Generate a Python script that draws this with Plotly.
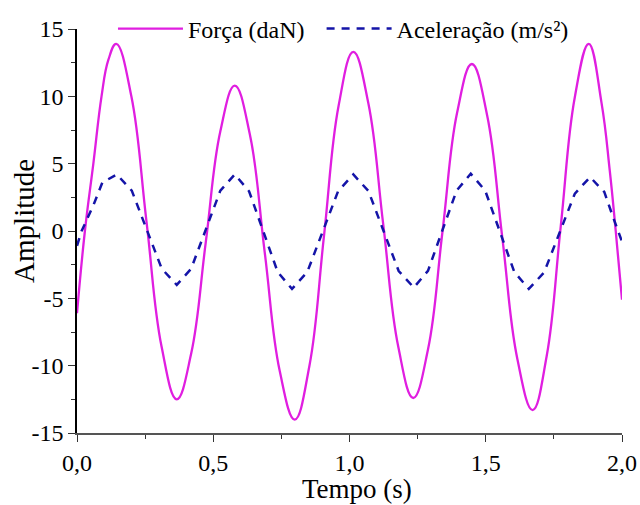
import plotly.graph_objects as go

# Força (daN)
t_force = [0.0, 0.029, 0.06, 0.09, 0.115, 0.144,
           0.1995, 0.255, 0.3105, 0.366,
           0.419, 0.4725, 0.526, 0.579,
           0.634, 0.689, 0.744, 0.799,
           0.853, 0.9065, 0.960, 1.014,
           1.069, 1.124, 1.179, 1.234,
           1.288, 1.3415, 1.395, 1.449,
           1.505, 1.5605, 1.616, 1.672,
           1.7235, 1.775, 1.8265, 1.878,
           1.925, 1.955, 1.977, 2.0]
force = [-6.1, 0.0, 5.0, 10.0, 12.7, 13.9,
         10.0, 0.7, -8.6, -12.5,
         -9.1, -0.85, 7.4, 10.8,
         7.2, -1.6, -10.4, -14.0,
         -10.0, -0.35, 9.3, 13.3,
         9.5, 0.45, -8.6, -12.4,
         -8.8, 0.0, 8.8, 12.4,
         8.6, -0.45, -9.5, -13.3,
         -9.3, 0.3, 9.9, 13.9,
         9.5, 4.5, 0.0, -5.1]

# Aceleração (m/s²)
t_acc = [0.0, 0.017, 0.06, 0.093, 0.146,
         0.201, 0.256, 0.311, 0.366,
         0.419, 0.4725, 0.526, 0.579,
         0.6315, 0.684, 0.7365, 0.789,
         0.845, 0.9015, 0.958, 1.014,
         1.0695, 1.125, 1.1805, 1.236,
         1.288, 1.3405, 1.393, 1.445,
         1.498, 1.5515, 1.605, 1.658,
         1.714, 1.7705, 1.827, 1.883,
         1.935, 1.966, 2.0]
acc = [-1.1, 0.0, 1.9, 3.6, 4.2,
       3.0, 0.1, -2.8, -4.0,
       -2.8, 0.1, 3.0, 4.2,
       2.95, -0.05, -3.05, -4.3,
       -3.05, -0.05, 2.95, 4.2,
       2.97, 0.0, -2.97, -4.2,
       -2.96, 0.03, 3.0, 4.25,
       3.0, -0.03, -3.05, -4.3,
       -3.08, -0.15, 2.78, 4.0,
       2.9, 1.1, -0.8]

x_tickvals = [0.0, 0.5, 1.0, 1.5, 2.0]
x_ticktext = ["0,0", "0,5", "1,0", "1,5", "2,0"]
y_tickvals = [-15, -10, -5, 0, 5, 10, 15]
y_ticktext = ["-15", "-10", "-5", "0", "5", "10", "15"]

FONT = "Liberation Serif"

fig = go.Figure()
fig.add_trace(go.Scatter(
    x=t_force, y=force, mode="lines", name="Força (daN)\u00a0\u00a0",
    line=dict(color="#e01ee0", width=2.3, shape="spline", smoothing=1.2),
))
fig.add_trace(go.Scatter(
    x=t_acc, y=acc, mode="lines", name="Aceleração (m/s²)",
    line=dict(color="#1414a8", width=2.5, dash="8px,7px"),
))

fig.update_layout(
    width=640, height=505,
    margin=dict(l=77, r=18, t=29, b=72, autoexpand=False),
    paper_bgcolor="white", plot_bgcolor="white",
    font=dict(family=FONT, size=24, color="black"),
    showlegend=True,
    legend=dict(
        orientation="h", x=0.066, xanchor="left", y=1.0, yanchor="middle",
        bgcolor="rgba(0,0,0,0)", font=dict(family=FONT, size=24),
        itemwidth=65, traceorder="normal",
    ),
    xaxis=dict(
        range=[0, 2.0], showgrid=False, zeroline=False,
        showline=True, linecolor="#555555", linewidth=1.5,
        tickmode="array", tickvals=x_tickvals, ticktext=x_ticktext,
        ticks="outside", ticklen=7, tickwidth=1.2, tickcolor="#333333",
        minor=dict(tickmode="linear", tick0=0, dtick=0.25, ticks="outside",
                   ticklen=4, tickwidth=1.2, tickcolor="#333333"),
        tickfont=dict(family=FONT, size=24),
    ),
    yaxis=dict(
        range=[-15, 15], showgrid=False, zeroline=False,
        showline=True, linecolor="black", linewidth=1.5,
        tickmode="array", tickvals=y_tickvals, ticktext=y_ticktext,
        ticks="outside", ticklen=7, tickwidth=1.2, tickcolor="#333333",
        minor=dict(tickmode="linear", tick0=0, dtick=2.5, ticks="outside",
                   ticklen=4, tickwidth=1.2, tickcolor="#333333"),
        tickfont=dict(family=FONT, size=24),
    ),
    annotations=[
        dict(text="Tempo (s)", xref="paper", yref="paper", x=0.514, y=0,
             xanchor="center", yanchor="middle", yshift=-56, showarrow=False,
             font=dict(family=FONT, size=27)),
        dict(text="Amplitude", xref="paper", yref="paper", x=0, y=0.525,
             xanchor="center", yanchor="middle", xshift=-53, textangle=-90,
             showarrow=False, font=dict(family=FONT, size=29)),
    ],
)

fig.write_html("out.html")
